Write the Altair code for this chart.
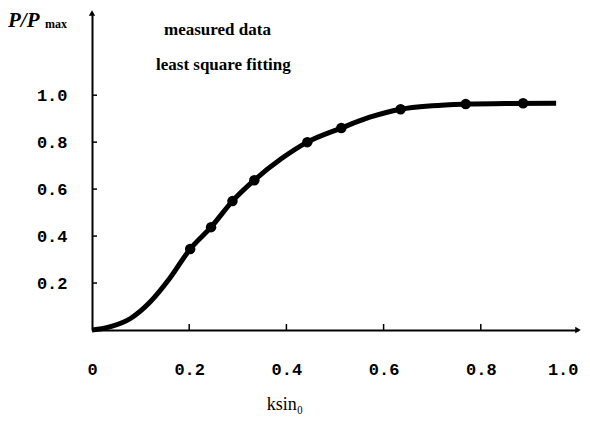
import altair as alt
import pandas as pd

# measured data points
meas_x = [0.202, 0.245, 0.289, 0.334, 0.443, 0.513, 0.635, 0.769, 0.887]
meas_y = [0.345, 0.438, 0.549, 0.638, 0.800, 0.860, 0.940, 0.962, 0.966]

# least square fitting curve
fit_x = [0.0, 0.02, 0.04, 0.08, 0.12, 0.16, 0.202, 0.245, 0.289, 0.334, 0.39, 0.443, 0.513, 0.57, 0.635, 0.70, 0.769, 0.85, 0.955]
fit_y = [0.0, 0.005, 0.015, 0.05, 0.12, 0.22, 0.345, 0.438, 0.549, 0.638, 0.73, 0.800, 0.860, 0.905, 0.940, 0.955, 0.962, 0.965, 0.966]

x_ticks = [0.0, 0.2, 0.4, 0.6, 0.8, 1.0]
y_ticks = [0.2, 0.4, 0.6, 0.8, 1.0]

legend_lines = ["measured data", "least square fitting"]

meas = pd.DataFrame({"x": meas_x, "y": meas_y})
fit = pd.DataFrame({"x": fit_x, "y": fit_y})
xt = pd.DataFrame({"v": x_ticks[1:-1]})
yt = pd.DataFrame({"v": y_ticks})

XMAX, YMAX = 1.0, 1.35
xs = alt.Scale(domain=[0, XMAX], nice=False, zero=False)
ys = alt.Scale(domain=[0, YMAX], nice=False, zero=False)

mono = "Liberation Mono"
serif = "Liberation Serif"

base_axes = alt.Chart(pd.DataFrame({"x": [0.0], "y": [0.0]})).mark_point(opacity=0).encode(
    x=alt.X("x:Q", scale=xs,
            axis=alt.Axis(values=x_ticks, title=None, grid=False, ticks=False,
                          domainColor="black", domainWidth=2,
                          labelExpr="datum.value == 0 ? '0' : format(datum.value, '.1f')",
                          labelAlign={"condition": {"test": "datum.value >= 1", "value": "right"}, "value": "center"},
                          labelFont=mono, labelFontSize=17, labelFontWeight="bold",
                          labelColor="black", labelPadding=31, labelFlush=False)),
    y=alt.Y("y:Q", scale=ys,
            axis=alt.Axis(values=y_ticks, title=None, grid=False, ticks=False,
                          domainColor="black", domainWidth=2, format=".1f",
                          labelFont=mono, labelFontSize=17, labelFontWeight="bold",
                          labelColor="black", labelPadding=25)),
)

xtick_marks = alt.Chart(xt).mark_rule(color="black", strokeWidth=1.5).encode(
    x=alt.X("v:Q", scale=xs), y=alt.value(317), y2=alt.value(311))
ytick_marks = alt.Chart(yt).mark_rule(color="black", strokeWidth=1.5).encode(
    y=alt.Y("v:Q", scale=ys), x=alt.value(0), x2=alt.value(5))

arrows = alt.Chart(pd.DataFrame({"x": [XMAX, 0.0], "y": [0.0, YMAX], "s": ["triangle-right", "triangle-up"]})).mark_point(
    filled=True, color="black", size=40, opacity=1).encode(
    x=alt.X("x:Q", scale=xs), y=alt.Y("y:Q", scale=ys),
    shape=alt.Shape("s:N", scale=None, legend=None))

curve = alt.Chart(fit).mark_line(color="black", strokeWidth=5, interpolate="monotone").encode(
    x=alt.X("x:Q", scale=xs), y=alt.Y("y:Q", scale=ys))

dots = alt.Chart(meas).mark_circle(color="black", size=110, opacity=1).encode(
    x=alt.X("x:Q", scale=xs), y=alt.Y("y:Q", scale=ys))

leg1 = alt.Chart(pd.DataFrame({"t": [legend_lines[0]]})).mark_text(
    font=serif, fontSize=17, fontWeight="bold", align="left", baseline="middle", color="black").encode(
    text="t:N", x=alt.value(72), y=alt.value(17))
leg2 = alt.Chart(pd.DataFrame({"t": [legend_lines[1]]})).mark_text(
    font=serif, fontSize=17, fontWeight="bold", align="left", baseline="middle", color="black").encode(
    text="t:N", x=alt.value(64), y=alt.value(52))

ytitle1 = alt.Chart(pd.DataFrame({"t": ["P/P"]})).mark_text(
    font=serif, fontSize=21, fontStyle="italic", fontWeight="bold", align="left", baseline="alphabetic", color="black").encode(
    text="t:N", x=alt.value(-84), y=alt.value(14))
ytitle2 = alt.Chart(pd.DataFrame({"t": ["max"]})).mark_text(
    font=serif, fontSize=12, fontWeight="bold", align="left", baseline="alphabetic", color="black").encode(
    text="t:N", x=alt.value(-47), y=alt.value(15))

xtitle = alt.Chart(pd.DataFrame({"t": ["ksin₀"]})).mark_text(
    font=serif, fontSize=18, align="center", baseline="middle", color="black").encode(
    text="t:N", x=alt.value(193), y=alt.value(392))

chart = alt.layer(
    base_axes, xtick_marks, ytick_marks, arrows, curve, dots,
    leg1, leg2, ytitle1, ytitle2, xtitle
).properties(
    width=486, height=317,
    autosize=alt.AutoSizeParams(type="none"),
    padding={"left": 84, "top": 5, "right": 4, "bottom": 95},
    background="white",
).configure_view(stroke=None)

chart.save("out.html", embed_options={"renderer": "svg", "actions": False})
